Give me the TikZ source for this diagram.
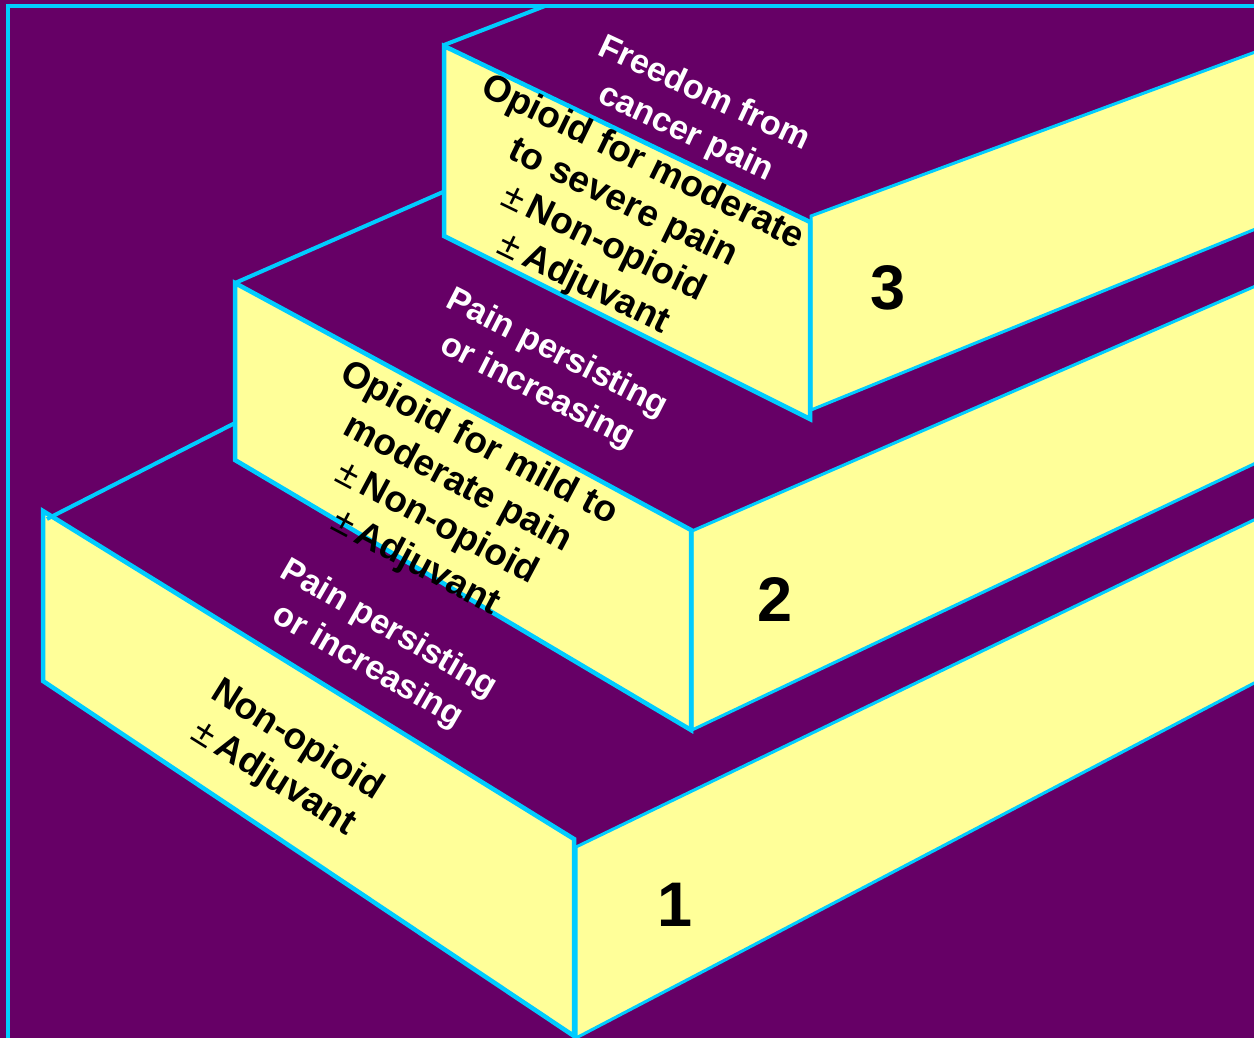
\documentclass[tikz,border=0pt]{standalone}
\usepackage{fontspec}
\setmainfont{Liberation Sans}
\definecolor{bgp}{HTML}{660066}
\definecolor{stepy}{HTML}{FFFF99}
\definecolor{edgec}{HTML}{00CCFF}
\tikzset{
  face/.style={fill=stepy, draw=edgec, line width=4.5pt, line join=miter},
  sideface/.style={fill=stepy, draw=edgec, line width=3pt, line join=miter},
  backedge/.style={draw=edgec, line width=4pt},
  framelines/.style={draw=edgec, line width=4pt},
  blacktxt/.style={text=black, font=\fontsize{37}{45}\selectfont\bfseries, align=center, inner sep=0pt},
  whitetxt/.style={text=white, font=\fontsize{34}{43}\selectfont\bfseries, align=center, inner sep=0pt},
  numtxt/.style={text=black, font=\fontsize{63}{70}\selectfont\bfseries, inner sep=0pt},
}
\newcommand{\pmsign}{{\mdseries\fontsize{38}{42}\selectfont ±}\,}
\begin{document}
\begin{tikzpicture}[x=1pt,y=-1pt]
  \useasboundingbox (0,0) rectangle (1254,1038);
  \fill[bgp] (0,0) rectangle (1254,1038);
  % frame
  \draw[framelines] (7,6) -- (1256,6);
  \draw[framelines] (8,4) -- (8,1040);

  % step 1
  \draw[sideface] (576,847) -- (1258,518) -- (1258,681) -- (576,1038) -- cycle;
  \draw[face] (43,511) -- (574,839) -- (574,1036) -- (43,681) -- cycle;
  \draw[backedge] (47,519) -- (235,423);

  % step 2
  \draw[sideface] (692,531) -- (1258,285) -- (1258,462) -- (692,730) -- cycle;
  \draw[face] (235,283) -- (691,530) -- (691,730) -- (235,460) -- cycle;
  \draw[backedge] (235,283) -- (443,192);

  % step 3
  \draw[sideface] (811,216) -- (1258,51) -- (1258,228) -- (811,410) -- cycle;
  \draw[face] (444,46) -- (810,222) -- (810,419) -- (444,236) -- cycle;
  \draw[backedge] (444,45) -- (545,6);

  % texts
  \node[whitetxt, rotate=-25] (w3) at (695,114) {Freedom from\\cancer pain};
  \node[blacktxt, rotate=-26] (b3) at (613,224) {Opioid for moderate\\to severe pain\\\pmsign Non-opioid\\\pmsign Adjuvant};
  \node[whitetxt, rotate=-27] (w2) at (547,373) {Pain persisting\\or increasing};
  \node[blacktxt, rotate=-28] (b2) at (447,504) {Opioid for mild to\\moderate pain\\\pmsign Non-opioid\\\pmsign Adjuvant};
  \node[whitetxt, rotate=-30] (w1) at (378,648) {Pain persisting\\or increasing};
  \node[blacktxt, rotate=-32] (b1) at (285,760) {Non-opioid\\\pmsign Adjuvant};

  \node[numtxt] (n3) at (888,288) {3};
  \node[numtxt] (n2) at (775,600) {2};
  \node[numtxt] (n1) at (675,905) {1};
\end{tikzpicture}
\end{document}
